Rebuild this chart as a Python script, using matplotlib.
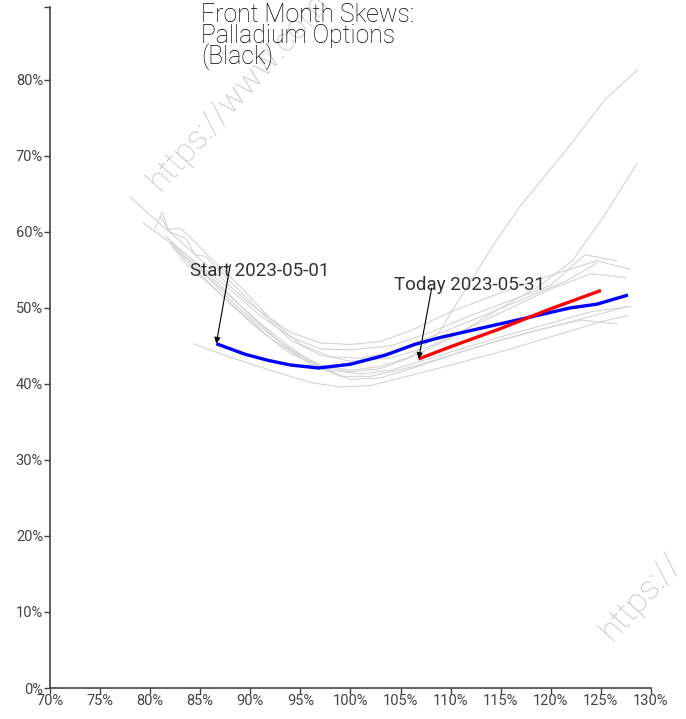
import matplotlib
matplotlib.use("Agg")
import matplotlib.pyplot as plt
import numpy as np

plt.rcParams['font.family'] = ['Roboto', 'DejaVu Sans']
plt.rcParams['font.weight'] = 'light'

# history of front month skews (grey), moneyness % -> implied vol %
hist_x = [
    [78.0, 80, 83, 86, 90, 94, 97, 100, 103, 106, 110, 115, 120, 124.6, 127.9],
    [79.3, 82, 85, 88, 91, 94, 97, 100, 104, 108, 112, 116, 120, 123.4, 126.6],
    [80.5, 81.2, 81.8, 83, 84, 86, 89, 92, 95, 98, 101, 104, 108, 112, 116, 121.6, 124.6],
    [81.0, 82.0, 83.5, 84.5, 85.5, 88, 91, 94, 97, 100, 104, 108, 112, 116, 120, 124, 127.5],
    [82.0, 85, 88, 91, 94, 97, 100, 103, 106, 108.9, 110.6, 114.6, 116.9, 122.2, 125.4, 128.7],
    [82.5, 85, 88, 91, 94, 97, 100, 103, 106, 110, 115, 119, 122.2, 125.5, 128.6],
    [83.0, 86, 89, 92, 95, 98, 101, 104, 107, 111, 115, 120, 124, 128.0],
    [84.3, 88, 92, 96, 99, 102, 105, 108, 112, 116, 120, 125, 127.7],
    [81.5, 84, 87, 90, 93, 96, 99, 102, 106, 110, 114, 118, 122, 126, 127.7],
    [82.2, 85, 88, 91, 94, 97, 100, 103, 107, 111, 115, 119, 123, 126.6],
]
hist_y = [
    [64.6, 62.2, 58.8, 55.2, 50.5, 46.8, 45.4, 45.2, 45.6, 47.0, 49.5, 52.0, 54.3, 56.2, 55.1],
    [61.2, 58.6, 55.6, 52.4, 49.0, 46.2, 44.6, 44.5, 45.0, 46.8, 49.0, 51.0, 53.0, 57.0, 56.2],
    [60.5, 62.6, 60.3, 60.5, 59.3, 56.6, 52.8, 48.6, 45.2, 43.6, 43.4, 44.2, 46.2, 48.3, 50.5, 53.6, 55.9],
    [62.0, 60.0, 59.2, 57.0, 56.8, 53.5, 49.5, 45.8, 43.8, 43.0, 43.4, 45.0, 47.5, 50.0, 52.5, 54.5, 54.0],
    [58.5, 55.0, 51.0, 47.5, 44.5, 42.5, 41.8, 42.3, 43.6, 46.9, 50.6, 59.0, 63.3, 71.9, 77.4, 81.4],
    [57.5, 54.5, 50.5, 47.0, 44.0, 42.3, 41.6, 42.0, 43.5, 46.0, 50.0, 53.0, 56.3, 62.5, 69.0],
    [56.5, 53.0, 49.5, 46.0, 43.5, 41.8, 41.3, 41.8, 43.0, 44.6, 46.2, 48.0, 49.5, 50.2],
    [45.3, 43.5, 41.8, 40.2, 39.6, 39.8, 40.8, 41.8, 43.2, 44.6, 46.2, 48.2, 49.0],
    [59.5, 56.5, 53.0, 49.0, 45.5, 42.6, 41.0, 41.0, 42.2, 43.8, 45.4, 46.8, 48.2, 49.6, 50.2],
    [58.0, 55.0, 51.5, 48.0, 44.8, 42.2, 40.6, 40.8, 42.4, 44.2, 45.8, 47.2, 48.4, 47.9],
]

start_x = [86.6, 89.5, 91.8, 94.0, 96.8, 100.0, 103.5, 106.4, 108.9, 113.9, 117.6, 121.9, 124.6, 127.7]
start_y = [45.3, 43.9, 43.1, 42.5, 42.1, 42.6, 43.8, 45.2, 46.1, 47.6, 48.7, 50.0, 50.5, 51.7]

today_x = [106.8, 110.0, 115.0, 120.0, 125.0]
today_y = [43.3, 44.9, 47.3, 49.9, 52.3]

x_ticks = [70, 75, 80, 85, 90, 95, 100, 105, 110, 115, 120, 125, 130]
y_ticks = [0, 10, 20, 30, 40, 50, 60, 70, 80]

fig = plt.figure(figsize=(6.86, 7.19), dpi=100)
ax = fig.add_axes([50 / 686, 31 / 719, 601 / 686, 681 / 719])

for hx, hy in zip(hist_x, hist_y):
    ax.plot(hx, hy, color='#d4d4d4', lw=0.8, zorder=1)

ax.plot(start_x, start_y, color='#0000ff', lw=2.4, zorder=3, solid_capstyle='butt')
ax.plot(today_x, today_y, color='#ff0000', lw=2.4, zorder=3, solid_capstyle='butt')

arrow = dict(arrowstyle='-|>', color='black', lw=0.8, mutation_scale=9, shrinkA=0, shrinkB=0)
ax.annotate('', xy=(start_x[0], start_y[0]), xytext=(88.0, 55.7), arrowprops=arrow, zorder=4)
ax.text(84.0, 54.9, 'Start 2023-05-01', fontsize=13.5, color='#333333', va='center', ha='left',
        fontweight='normal')
ax.annotate('', xy=(today_x[0], today_y[0]), xytext=(108.1, 52.6), arrowprops=arrow, zorder=4)
ax.text(104.3, 53.0, 'Today 2023-05-31', fontsize=13.5, color='#333333', va='center', ha='left',
        fontweight='normal')

fig.text(201 / 686, 1 - 3 / 719, 'Front Month Skews:\nPalladium Options\n(Black)', fontsize=17.8,
         color='black', va='top', ha='left', linespacing=0.82)

ax.set_xlim(70, 130)
ax.set_ylim(0, 89.6)
ax.set_xticks(x_ticks)
ax.set_xticklabels([f'{t}%' for t in x_ticks], fontweight='normal')
ax.set_yticks(y_ticks)
ax.set_yticklabels([f'{t}%' for t in y_ticks], fontweight='normal')
ax.set_yticks([89.6], minor=True)
ax.tick_params(axis='both', which='both', length=4, width=1, color='#444444',
               labelsize=10.5, labelcolor='#444444', pad=1)
ax.tick_params(axis='x', pad=0)
for s in ['top', 'right']:
    ax.spines[s].set_visible(False)
for s in ['left', 'bottom']:
    ax.spines[s].set_color('#444444')
    ax.spines[s].set_linewidth(1.2)

# watermarks
fig.text(160 / 686, 1 - 192 / 719, 'https://www.com', fontsize=24, color='#c4c4c4',
         rotation=48, rotation_mode='anchor', ha='left', va='baseline', zorder=0)
fig.text(612 / 686, 1 - 642 / 719, 'https://', fontsize=24, color='#c4c4c4',
         rotation=48, rotation_mode='anchor', ha='left', va='baseline', zorder=0)

fig.savefig('out.png', dpi=100)
